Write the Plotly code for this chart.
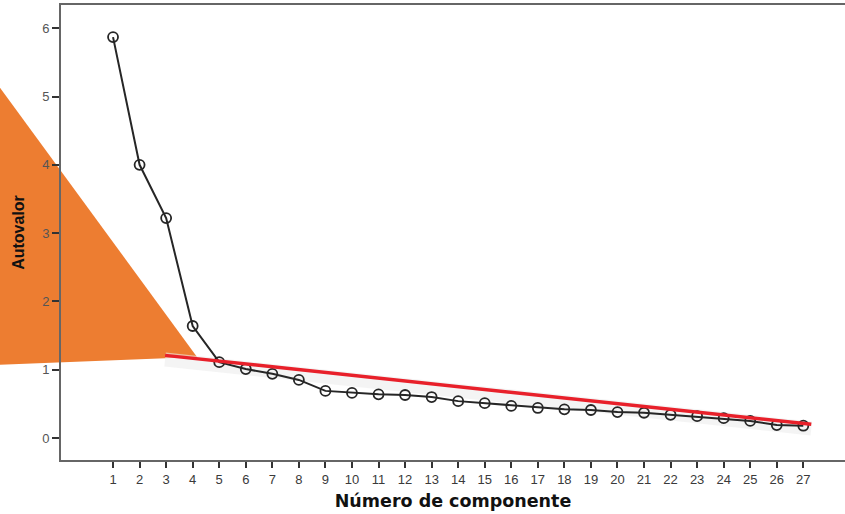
import plotly.graph_objects as go

components = list(range(1, 28))
eigenvalues = [5.87, 4.00, 3.22, 1.64, 1.11, 1.01, 0.94, 0.85, 0.69, 0.66,
               0.64, 0.63, 0.60, 0.54, 0.51, 0.47, 0.44, 0.42, 0.41, 0.38,
               0.37, 0.34, 0.32, 0.29, 0.25, 0.19, 0.18]
tick_labels = [str(c) for c in components]

# hand-drawn reference (red) line: endpoints in data units
ref_x = [2.96, 27.3]
ref_y = [1.21, 0.20]

fig = go.Figure()

# faint grey smudge behind the red line
fig.add_trace(go.Scatter(
    x=ref_x, y=[v - 0.06 for v in ref_y], mode="lines",
    line=dict(color="rgba(236,236,236,0.6)", width=14),
    hoverinfo="skip", showlegend=False))

fig.add_trace(go.Scatter(
    x=components, y=eigenvalues, mode="lines+markers",
    line=dict(color="#262626", width=2),
    marker=dict(symbol="circle-open", size=10, color="#262626", line=dict(width=1.8)),
    showlegend=False))

fig.add_trace(go.Scatter(
    x=ref_x, y=ref_y, mode="lines",
    line=dict(color="#e8202a", width=3.5),
    showlegend=False))

# orange triangle overlay (paper coordinates)
fig.add_shape(type="path", xref="paper", yref="paper",
              path="M -0.09,0.847 L 0.1735,0.2264 L -0.09,0.2088 Z",
              fillcolor="#ed7d31", line=dict(width=0), layer="below")

fig.update_layout(
    width=845, height=514,
    margin=dict(l=61, r=0, t=5, b=54),
    paper_bgcolor="white", plot_bgcolor="rgba(0,0,0,0)",
    font=dict(family="Liberation Sans, Arial, sans-serif", color="#333"),
)

fig.update_xaxes(
    range=[-0.96, 28.57], tickmode="array", tickvals=components, ticktext=tick_labels,
    showline=True, linecolor="#666", linewidth=2, mirror=True,
    ticks="outside", ticklen=6, tickwidth=1.5, tickcolor="#333",
    tickfont=dict(size=13, color="#3a3a3a"), showgrid=False, zeroline=False,
    title=dict(text="<b>Número de componente</b>",
               font=dict(family="DejaVu Sans", size=17.5, color="#111"), standoff=9),
)
fig.update_yaxes(
    range=[-0.322, 6.34], tickmode="array", tickvals=[0, 1, 2, 3, 4, 5, 6],
    showline=True, linecolor="#666", linewidth=2,
    ticks="outside", ticklen=7, tickwidth=1.5, tickcolor="#333",
    tickfont=dict(size=13, color="#555"), showgrid=False, zeroline=False,
    title=dict(text="<b>Autovalor</b>",
               font=dict(family="Liberation Sans Narrow, Liberation Sans", size=16, color="#111"),
               standoff=14),
)

fig.write_html("out.html")
